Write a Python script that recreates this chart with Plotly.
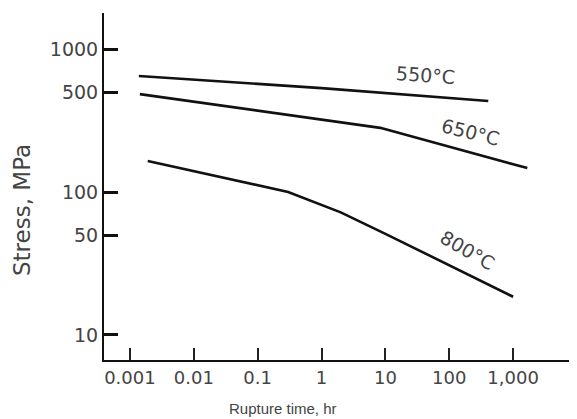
import plotly.graph_objects as go

# Data (rupture time in hr, stress in MPa)
time_550 = [0.00138, 1.0, 408]
stress_550 = [647, 533, 433]

time_650 = [0.00143, 8.3, 1667]
stress_650 = [484, 281, 147]

time_800 = [0.0019, 0.3, 2.0, 10, 1000]
stress_800 = [165, 100, 72, 51, 18.5]

x_tickvals = [0.001, 0.01, 0.1, 1, 10, 100, 1000]
x_ticktext = ["0.001", "0.01", "0.1", "1", "10", "100", "1,000"]
y_tickvals = [10, 50, 100, 500, 1000]
y_ticktext = ["10", "50", "100", "500", "1000"]

series = [
    ("550°C", time_550, stress_550),
    ("650°C", time_650, stress_650),
    ("800°C", time_800, stress_800),
]

# label placement (log10 coordinates) and rotation
label_pos = {
    "550°C": (1.624, 2.818, 4),
    "650°C": (2.329, 2.420, 14),
    "800°C": (2.282, 1.594, 30),
}

FONT = "DejaVu Sans"
TXT = "#444444"

# page has an 8px body margin, so the figure is sized/offset for it
L, T, B = 96, 5, 59
W, H = 569, 411
PW, PH = W - L, H - T - B

fig = go.Figure()
for name, t, s in series:
    fig.add_trace(go.Scatter(x=t, y=s, mode="lines", name=name,
                             line=dict(color="#111111", width=2.6),
                             showlegend=False))

annotations = []
for name, (lx, ly, ang) in label_pos.items():
    annotations.append(dict(x=lx, y=ly, xref="x", yref="y", text=name,
                            showarrow=False, textangle=ang,
                            font=dict(family=FONT, size=19, color=TXT)))

annotations.append(dict(x=(283 - 104) / PW, y=0, xref="paper", yref="paper",
                        yshift=-48, yanchor="middle", xanchor="center",
                        text="Rupture time, hr", showarrow=False,
                        font=dict(family="Liberation Sans", size=15, color=TXT)))
annotations.append(dict(x=0, y=(360 - 210) / PH, xref="paper", yref="paper",
                        xshift=-82, xanchor="center", yanchor="middle",
                        text="Stress, MPa", showarrow=False, textangle=-90,
                        font=dict(family=FONT, size=23, color=TXT)))

fig.update_layout(
    width=W, height=H,
    margin=dict(l=L, r=0, t=T, b=B),
    paper_bgcolor="white", plot_bgcolor="white",
    annotations=annotations,
    xaxis=dict(type="log", range=[-3.406, 4.0],
               tickvals=x_tickvals, ticktext=x_ticktext,
               ticks="inside", ticklen=12, tickwidth=1.5, tickcolor="#222",
               showline=True, linewidth=2, linecolor="#111",
               showgrid=False, zeroline=False,
               tickfont=dict(family=FONT, size=18, color=TXT)),
    yaxis=dict(type="log", range=[0.825, 3.252],
               tickvals=y_tickvals, ticktext=y_ticktext,
               ticks="inside", ticklen=14, tickwidth=2.5, tickcolor="#111",
               showline=True, linewidth=2, linecolor="#111",
               showgrid=False, zeroline=False,
               tickfont=dict(family=FONT, size=19, color=TXT)),
)

fig.write_html("out.html")
